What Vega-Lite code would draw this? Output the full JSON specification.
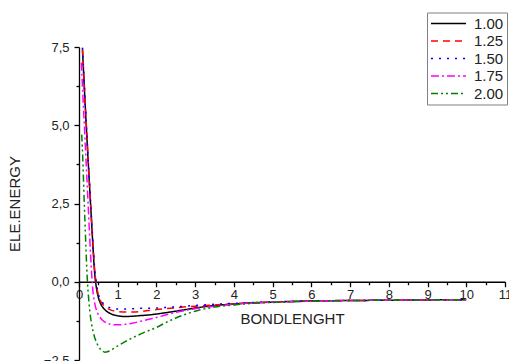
{
  "$schema": "https://vega.github.io/schema/vega-lite/v6.json",
  "width": 426,
  "height": 313,
  "autosize": "none",
  "padding": {"left": 79, "top": 47, "right": 4, "bottom": 1},
  "background": "white",
  "config": {
    "view": {"stroke": null},
    "font": "Liberation Sans",
    "axis": {"grid": false, "domainColor": "#000", "tickColor": "#000", "labelColor": "#222", "titleColor": "#222", "labelFont": "Liberation Sans", "titleFont": "Liberation Sans", "titleFontWeight": "normal", "domainWidth": 1.3, "tickWidth": 1.3}
  },
  "data": {"values": [
    {"x": 0.09, "y": 7.4, "s": "1.00"}, {"x": 0.12, "y": 6.65, "s": "1.00"}, {"x": 0.15, "y": 5.9, "s": "1.00"}, {"x": 0.2, "y": 4.7, "s": "1.00"}, {"x": 0.25, "y": 3.55, "s": "1.00"}, {"x": 0.3, "y": 2.45, "s": "1.00"}, {"x": 0.35, "y": 1.35, "s": "1.00"}, {"x": 0.4, "y": 0.35, "s": "1.00"}, {"x": 0.45, "y": -0.2, "s": "1.00"}, {"x": 0.5, "y": -0.5, "s": "1.00"}, {"x": 0.55, "y": -0.68, "s": "1.00"}, {"x": 0.6, "y": -0.79, "s": "1.00"}, {"x": 0.65, "y": -0.87, "s": "1.00"}, {"x": 0.7, "y": -0.93, "s": "1.00"}, {"x": 0.8, "y": -1.01, "s": "1.00"}, {"x": 0.9, "y": -1.06, "s": "1.00"}, {"x": 1.0, "y": -1.09, "s": "1.00"}, {"x": 1.2, "y": -1.11, "s": "1.00"}, {"x": 1.4, "y": -1.1, "s": "1.00"}, {"x": 1.6, "y": -1.08, "s": "1.00"}, {"x": 1.8, "y": -1.06, "s": "1.00"}, {"x": 2.0, "y": -1.03, "s": "1.00"}, {"x": 2.5, "y": -0.94, "s": "1.00"}, {"x": 3.0, "y": -0.84, "s": "1.00"}, {"x": 3.5, "y": -0.76, "s": "1.00"}, {"x": 4.0, "y": -0.71, "s": "1.00"}, {"x": 4.5, "y": -0.67, "s": "1.00"}, {"x": 5.0, "y": -0.65, "s": "1.00"}, {"x": 6.0, "y": -0.61, "s": "1.00"}, {"x": 7.0, "y": -0.6, "s": "1.00"}, {"x": 8.0, "y": -0.59, "s": "1.00"}, {"x": 9.0, "y": -0.58, "s": "1.00"}, {"x": 10.0, "y": -0.575, "s": "1.00"},

    {"x": 0.09, "y": 7.45, "s": "1.25"}, {"x": 0.12, "y": 6.7, "s": "1.25"}, {"x": 0.15, "y": 5.95, "s": "1.25"}, {"x": 0.2, "y": 4.75, "s": "1.25"}, {"x": 0.25, "y": 3.6, "s": "1.25"}, {"x": 0.3, "y": 2.5, "s": "1.25"}, {"x": 0.35, "y": 1.42, "s": "1.25"}, {"x": 0.4, "y": 0.45, "s": "1.25"}, {"x": 0.45, "y": -0.1, "s": "1.25"}, {"x": 0.5, "y": -0.42, "s": "1.25"}, {"x": 0.55, "y": -0.6, "s": "1.25"}, {"x": 0.6, "y": -0.7, "s": "1.25"}, {"x": 0.65, "y": -0.77, "s": "1.25"}, {"x": 0.7, "y": -0.82, "s": "1.25"}, {"x": 0.8, "y": -0.89, "s": "1.25"}, {"x": 0.9, "y": -0.93, "s": "1.25"}, {"x": 1.0, "y": -0.95, "s": "1.25"}, {"x": 1.2, "y": -0.97, "s": "1.25"}, {"x": 1.4, "y": -0.97, "s": "1.25"}, {"x": 1.6, "y": -0.95, "s": "1.25"}, {"x": 1.8, "y": -0.92, "s": "1.25"}, {"x": 2.0, "y": -0.89, "s": "1.25"}, {"x": 2.5, "y": -0.83, "s": "1.25"}, {"x": 3.0, "y": -0.78, "s": "1.25"}, {"x": 3.5, "y": -0.74, "s": "1.25"}, {"x": 4.0, "y": -0.7, "s": "1.25"}, {"x": 4.5, "y": -0.67, "s": "1.25"}, {"x": 5.0, "y": -0.65, "s": "1.25"}, {"x": 6.0, "y": -0.62, "s": "1.25"}, {"x": 7.0, "y": -0.6, "s": "1.25"}, {"x": 8.0, "y": -0.59, "s": "1.25"}, {"x": 9.0, "y": -0.58, "s": "1.25"}, {"x": 10.0, "y": -0.575, "s": "1.25"},

    {"x": 0.09, "y": 7.48, "s": "1.50"}, {"x": 0.12, "y": 6.72, "s": "1.50"}, {"x": 0.15, "y": 5.98, "s": "1.50"}, {"x": 0.2, "y": 4.78, "s": "1.50"}, {"x": 0.25, "y": 3.62, "s": "1.50"}, {"x": 0.3, "y": 2.52, "s": "1.50"}, {"x": 0.35, "y": 1.45, "s": "1.50"}, {"x": 0.4, "y": 0.5, "s": "1.50"}, {"x": 0.45, "y": -0.05, "s": "1.50"}, {"x": 0.5, "y": -0.38, "s": "1.50"}, {"x": 0.55, "y": -0.55, "s": "1.50"}, {"x": 0.6, "y": -0.65, "s": "1.50"}, {"x": 0.65, "y": -0.72, "s": "1.50"}, {"x": 0.7, "y": -0.77, "s": "1.50"}, {"x": 0.8, "y": -0.83, "s": "1.50"}, {"x": 0.9, "y": -0.86, "s": "1.50"}, {"x": 1.0, "y": -0.87, "s": "1.50"}, {"x": 1.2, "y": -0.87, "s": "1.50"}, {"x": 1.4, "y": -0.86, "s": "1.50"}, {"x": 1.6, "y": -0.85, "s": "1.50"}, {"x": 1.8, "y": -0.85, "s": "1.50"}, {"x": 2.0, "y": -0.84, "s": "1.50"}, {"x": 2.5, "y": -0.8, "s": "1.50"}, {"x": 3.0, "y": -0.76, "s": "1.50"}, {"x": 3.5, "y": -0.72, "s": "1.50"}, {"x": 4.0, "y": -0.69, "s": "1.50"}, {"x": 4.5, "y": -0.66, "s": "1.50"}, {"x": 5.0, "y": -0.64, "s": "1.50"}, {"x": 6.0, "y": -0.62, "s": "1.50"}, {"x": 7.0, "y": -0.6, "s": "1.50"}, {"x": 8.0, "y": -0.59, "s": "1.50"}, {"x": 9.0, "y": -0.58, "s": "1.50"}, {"x": 10.0, "y": -0.575, "s": "1.50"},

    {"x": 0.06, "y": 7.0, "s": "1.75"}, {"x": 0.1, "y": 5.95, "s": "1.75"}, {"x": 0.15, "y": 4.7, "s": "1.75"}, {"x": 0.2, "y": 3.4, "s": "1.75"}, {"x": 0.25, "y": 2.1, "s": "1.75"}, {"x": 0.3, "y": 0.85, "s": "1.75"}, {"x": 0.33, "y": 0.2, "s": "1.75"}, {"x": 0.36, "y": -0.3, "s": "1.75"}, {"x": 0.4, "y": -0.65, "s": "1.75"}, {"x": 0.45, "y": -0.9, "s": "1.75"}, {"x": 0.5, "y": -1.05, "s": "1.75"}, {"x": 0.6, "y": -1.22, "s": "1.75"}, {"x": 0.7, "y": -1.31, "s": "1.75"}, {"x": 0.8, "y": -1.35, "s": "1.75"}, {"x": 0.9, "y": -1.37, "s": "1.75"}, {"x": 1.0, "y": -1.375, "s": "1.75"}, {"x": 1.2, "y": -1.36, "s": "1.75"}, {"x": 1.4, "y": -1.32, "s": "1.75"}, {"x": 1.6, "y": -1.26, "s": "1.75"}, {"x": 1.8, "y": -1.2, "s": "1.75"}, {"x": 2.0, "y": -1.14, "s": "1.75"}, {"x": 2.5, "y": -0.98, "s": "1.75"}, {"x": 3.0, "y": -0.86, "s": "1.75"}, {"x": 3.5, "y": -0.78, "s": "1.75"}, {"x": 4.0, "y": -0.72, "s": "1.75"}, {"x": 4.5, "y": -0.68, "s": "1.75"}, {"x": 5.0, "y": -0.65, "s": "1.75"}, {"x": 6.0, "y": -0.62, "s": "1.75"}, {"x": 7.0, "y": -0.6, "s": "1.75"}, {"x": 8.0, "y": -0.59, "s": "1.75"}, {"x": 9.0, "y": -0.58, "s": "1.75"}, {"x": 10.0, "y": -0.575, "s": "1.75"},

    {"x": 0.07, "y": 4.7, "s": "2.00"}, {"x": 0.1, "y": 3.85, "s": "2.00"}, {"x": 0.12, "y": 3.1, "s": "2.00"}, {"x": 0.15, "y": 2.05, "s": "2.00"}, {"x": 0.18, "y": 1.05, "s": "2.00"}, {"x": 0.2, "y": 0.45, "s": "2.00"}, {"x": 0.22, "y": -0.05, "s": "2.00"}, {"x": 0.25, "y": -0.55, "s": "2.00"}, {"x": 0.28, "y": -0.95, "s": "2.00"}, {"x": 0.32, "y": -1.32, "s": "2.00"}, {"x": 0.37, "y": -1.62, "s": "2.00"}, {"x": 0.42, "y": -1.84, "s": "2.00"}, {"x": 0.46, "y": -1.96, "s": "2.00"}, {"x": 0.5, "y": -2.06, "s": "2.00"}, {"x": 0.55, "y": -2.15, "s": "2.00"}, {"x": 0.6, "y": -2.21, "s": "2.00"}, {"x": 0.67, "y": -2.25, "s": "2.00"}, {"x": 0.75, "y": -2.23, "s": "2.00"}, {"x": 0.85, "y": -2.17, "s": "2.00"}, {"x": 1.0, "y": -2.05, "s": "2.00"}, {"x": 1.2, "y": -1.91, "s": "2.00"}, {"x": 1.45, "y": -1.75, "s": "2.00"}, {"x": 1.7, "y": -1.61, "s": "2.00"}, {"x": 2.0, "y": -1.46, "s": "2.00"}, {"x": 2.25, "y": -1.3, "s": "2.00"}, {"x": 2.5, "y": -1.16, "s": "2.00"}, {"x": 2.75, "y": -1.04, "s": "2.00"}, {"x": 3.0, "y": -0.94, "s": "2.00"}, {"x": 3.5, "y": -0.81, "s": "2.00"}, {"x": 4.0, "y": -0.74, "s": "2.00"}, {"x": 4.5, "y": -0.69, "s": "2.00"}, {"x": 5.0, "y": -0.66, "s": "2.00"}, {"x": 6.0, "y": -0.62, "s": "2.00"}, {"x": 7.0, "y": -0.6, "s": "2.00"}, {"x": 8.0, "y": -0.59, "s": "2.00"}, {"x": 9.0, "y": -0.58, "s": "2.00"}, {"x": 10.0, "y": -0.575, "s": "2.00"}
  ]},
  "layer": [
    {
      "mark": {"type": "line", "interpolate": "monotone", "strokeWidth": 1.5},
      "encoding": {
        "x": {"field": "x", "type": "quantitative", "scale": {"domain": [0, 11], "nice": false, "zero": false},
          "axis": {"orient": "bottom", "offset": -78.25, "values": [0,1,2,3,4,5,6,7,8,9,10,11], "tickSize": 5, "labelFontSize": 13, "labelPadding": 2, "labelFlush": false, "labelOverlap": false, "title": "BONDLENGHT", "titleFontSize": 15, "titlePadding": 10, "format": "d"}},
        "y": {"field": "y", "type": "quantitative", "scale": {"domain": [-2.5, 7.5], "nice": false, "zero": false},
          "axis": {"orient": "left", "values": [-2.5, 0, 2.5, 5, 7.5], "tickSize": 5, "labelFontSize": 13, "labelPadding": 5, "labelExpr": "replace(format(datum.value, '.1f'), '.', ',')", "labelOverlap": false, "title": "ELE.ENERGY", "titleFontSize": 15, "titlePadding": 21}},
        "color": {"field": "s", "type": "nominal",
          "scale": {"domain": ["1.00", "1.25", "1.50", "1.75", "2.00"], "range": ["#000000", "#ff0000", "#0000ff", "#ff00ff", "#008000"]},
          "legend": {"title": null, "orient": "none", "legendX": 348, "legendY": -34.5, "symbolType": "M-1,0H4", "symbolSize": 196, "symbolStrokeWidth": 1.5, "labelFontSize": 15, "labelFont": "Liberation Sans", "labelColor": "#222", "labelOffset": 28, "padding": 3, "rowPadding": 1.5, "strokeColor": "#808080", "fillColor": "white"}},
        "strokeDash": {"field": "s", "type": "nominal",
          "scale": {"domain": ["1.00", "1.25", "1.50", "1.75", "2.00"], "range": [[1, 0], [7, 5], [2, 6], [8, 3, 2, 3], [7, 3, 2, 3, 2, 3]]},
          "legend": {"title": null, "orient": "none", "legendX": 348, "legendY": -34.5, "symbolType": "M-1,0H4", "symbolSize": 196, "symbolStrokeWidth": 1.5, "labelFontSize": 15, "labelFont": "Liberation Sans", "labelColor": "#222", "labelOffset": 28, "padding": 3, "rowPadding": 1.5, "strokeColor": "#808080", "fillColor": "white"}}
      }
    },
    {
      "mark": {"type": "point", "opacity": 0},
      "encoding": {
        "x": {"field": "x", "type": "quantitative",
          "axis": {"orient": "bottom", "offset": -78.25, "values": [0.5,1.5,2.5,3.5,4.5,5.5,6.5,7.5,8.5,9.5,10.5], "tickSize": 3, "labels": false, "domain": false, "title": null}},
        "y": {"field": "y", "type": "quantitative",
          "axis": {"orient": "left", "values": [-1.25, 1.25, 3.75, 6.25], "tickSize": 3, "labels": false, "domain": false, "title": null}}
      }
    }
  ],
  "resolve": {"axis": {"x": "independent", "y": "independent"}}
}
